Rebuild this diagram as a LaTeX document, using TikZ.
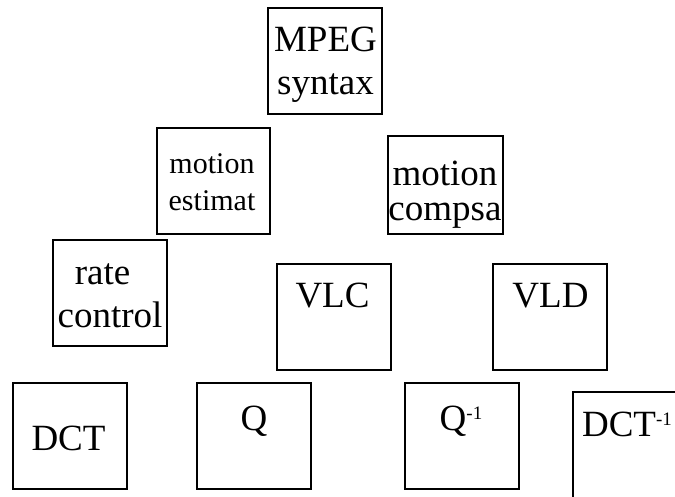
\documentclass[tikz,border=0pt]{standalone}
\usepackage{fontspec}
\setmainfont{Liberation Serif}
\newcommand{\negsup}{\raisebox{11pt}{\fontsize{19}{19}\selectfont -1}}

\begin{document}
\begin{tikzpicture}[x=1pt,y=-1pt,
    blk/.style={draw, line width=2pt, minimum width=114pt, minimum height=106pt, inner sep=0pt},
    big/.style={font=\fontsize{37}{43}\selectfont, align=center, anchor=base, inner sep=0pt},
    small/.style={font=\fontsize{30}{37}\selectfont, align=center, anchor=base, inner sep=0pt}]
    \useasboundingbox (0,0) rectangle (675,496);
    \clip (0,0) rectangle (675,496);

    % boxes
    \foreach \n/\x/\y in {mpeg/325/60.5, rate/110/293, vlc/334/317, vld/550/317,
                          dct/70/436, q/254/436, qinv/461.5/436, dctinv/630/445} {
      \node[blk] (\n) at (\x,\y) {};
    }
    \node[blk, minimum width=113pt] (mest) at (213.5,181) {};
    \node[blk, minimum width=115pt, minimum height=98pt] (mcomp) at (445.5,185) {};

    % labels (base = last line)
    \node[big] (mpegtxt) at (325.5,94) {MPEG\\syntax};
    \node[small] (mesttxt) at (212,210) {motion\\estimat};
    \node[big, font=\fontsize{37}{35}\selectfont] (mcomptxt) at (445,220) {motion\\compsa};
    \node[big] (ratetxt) at (110,327) {rate\rule{15pt}{0pt}\\control};
    \node[big] (vlctxt) at (332.5,307) {VLC};
    \node[big] (vldtxt) at (550.5,307) {VLD};
    \node[big] (dcttxt) at (68.5,450) {DCT};
    \node[big] (qtxt) at (254,430) {Q};
    \node[big] (qinvtxt) at (461,430) {Q\negsup};
    \node[big] (dctinvtxt) at (627,436) {DCT\negsup};
\end{tikzpicture}
\end{document}
